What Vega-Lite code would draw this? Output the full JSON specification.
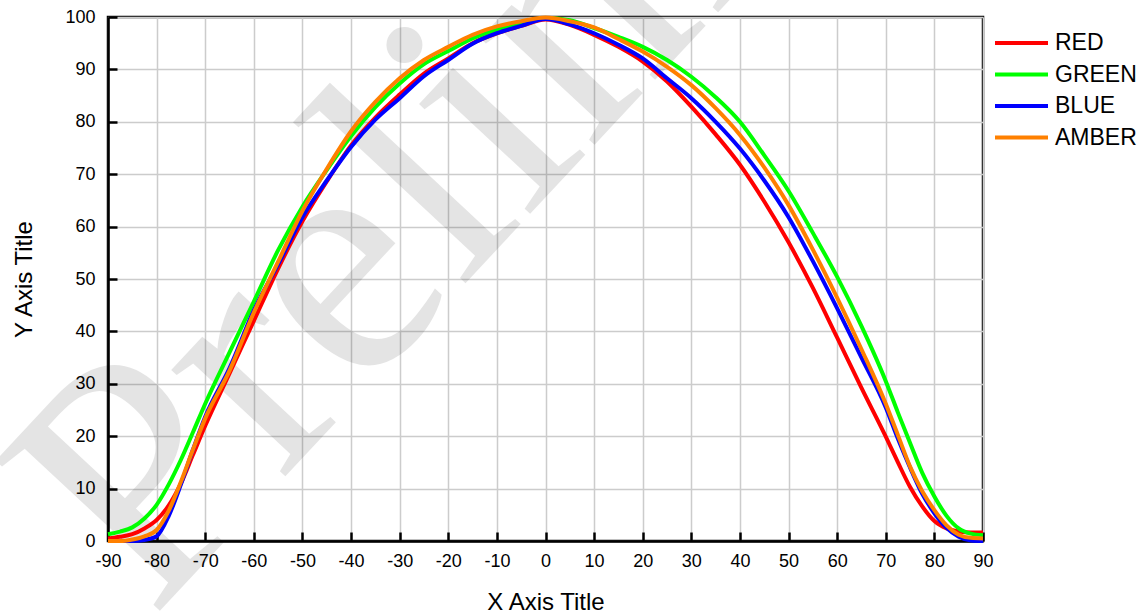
{
  "$schema": "https://vega.github.io/schema/vega-lite/v6.json",
  "autosize": {"type": "none"},
  "padding": {"left": 108, "top": 17, "right": 165, "bottom": 75},
  "width": 875,
  "height": 524,
  "background": "white",
  "config": {
    "view": {"stroke": "black", "strokeWidth": 2.5},
    "font": "Liberation Sans",
    "axis": {
      "grid": true,
      "labelFont": "Liberation Sans",
      "labelFontSize": 18,
      "labelColor": "black",
      "titleFont": "Liberation Sans",
      "titleFontSize": 24,
      "titleFontWeight": "normal",
      "titleColor": "black",
      "tickColor": "black",
      "tickWidth": 2.5,
      "tickSize": -9,
      "domainColor": "black",
      "domainWidth": 2.5,
      "gridColor": "#cccccc",
      "gridWidth": 1.5,
      "labelFlush": false,
      "labelOverlap": false
    }
  },
  "layer": [
    {
      "data": {"values": [{"label": "Preliminary"}]},
      "mark": {"type": "text", "font": "Liberation Serif", "fontSize": 340, "angle": 313, "align": "left", "baseline": "alphabetic", "color": "#000000", "opacity": 0.1, "clip": false},
      "encoding": {
        "x": {"datum": -81, "type": "quantitative"},
        "y": {"datum": -15, "type": "quantitative"},
        "text": {"field": "label"}
      }
    },
    {
      "data": {"values": [
        {"x": -90, "RED": 0.5, "GREEN": 1.3, "BLUE": 0, "AMBER": 0},
        {"x": -87.5, "RED": 0.8, "GREEN": 1.8, "BLUE": 0, "AMBER": 0},
        {"x": -85, "RED": 1.3, "GREEN": 2.6, "BLUE": 0, "AMBER": 0.3},
        {"x": -82.5, "RED": 2.4, "GREEN": 4.3, "BLUE": 0.2, "AMBER": 0.9},
        {"x": -80, "RED": 4.0, "GREEN": 6.9, "BLUE": 0.9, "AMBER": 2.1},
        {"x": -77.5, "RED": 6.8, "GREEN": 10.8, "BLUE": 4.8, "AMBER": 5.8},
        {"x": -75, "RED": 11, "GREEN": 15.5, "BLUE": 10.8, "AMBER": 11.3},
        {"x": -72.5, "RED": 16.5, "GREEN": 20.8, "BLUE": 17.5, "AMBER": 17.5},
        {"x": -70, "RED": 22, "GREEN": 26.2, "BLUE": 23.7, "AMBER": 23.4},
        {"x": -65, "RED": 32, "GREEN": 36, "BLUE": 33, "AMBER": 32.5},
        {"x": -60, "RED": 42, "GREEN": 45.7, "BLUE": 44, "AMBER": 43.6},
        {"x": -55, "RED": 52, "GREEN": 55.5, "BLUE": 52.8, "AMBER": 53.3},
        {"x": -50, "RED": 61, "GREEN": 63.8, "BLUE": 61.8, "AMBER": 63},
        {"x": -45, "RED": 68.6, "GREEN": 70.8, "BLUE": 68.8, "AMBER": 71},
        {"x": -40, "RED": 75.5, "GREEN": 77.3, "BLUE": 75.2, "AMBER": 78.2},
        {"x": -35, "RED": 80.8, "GREEN": 82.8, "BLUE": 80.4, "AMBER": 83.8},
        {"x": -30, "RED": 85.2, "GREEN": 87.3, "BLUE": 84.5, "AMBER": 88.3},
        {"x": -25, "RED": 89.2, "GREEN": 91, "BLUE": 88.7, "AMBER": 91.8},
        {"x": -20, "RED": 92.1, "GREEN": 93.5, "BLUE": 91.8, "AMBER": 94.3},
        {"x": -15, "RED": 95, "GREEN": 95.9, "BLUE": 94.9, "AMBER": 96.6},
        {"x": -10, "RED": 96.9, "GREEN": 97.6, "BLUE": 96.9, "AMBER": 98.2},
        {"x": -5, "RED": 98.3, "GREEN": 98.8, "BLUE": 98.3, "AMBER": 99.2},
        {"x": 0, "RED": 99.5, "GREEN": 99.8, "BLUE": 99.6, "AMBER": 99.9},
        {"x": 5, "RED": 98.5, "GREEN": 99.4, "BLUE": 98.6, "AMBER": 99.2},
        {"x": 10, "RED": 96.6, "GREEN": 97.9, "BLUE": 96.9, "AMBER": 98},
        {"x": 15, "RED": 94.3, "GREEN": 96.2, "BLUE": 94.7, "AMBER": 95.8},
        {"x": 20, "RED": 91.5, "GREEN": 94.3, "BLUE": 92.1, "AMBER": 93.4},
        {"x": 25, "RED": 87.7, "GREEN": 91.8, "BLUE": 88.3, "AMBER": 90.5},
        {"x": 30, "RED": 82.9, "GREEN": 88.6, "BLUE": 84.5, "AMBER": 87},
        {"x": 35, "RED": 77.6, "GREEN": 84.7, "BLUE": 80, "AMBER": 82.6},
        {"x": 40, "RED": 71.8, "GREEN": 80, "BLUE": 74.9, "AMBER": 77.5},
        {"x": 45, "RED": 64.8, "GREEN": 73.6, "BLUE": 68.8, "AMBER": 71.3},
        {"x": 50, "RED": 57, "GREEN": 66.8, "BLUE": 61.8, "AMBER": 64.1},
        {"x": 55, "RED": 48.3, "GREEN": 58.8, "BLUE": 53.4, "AMBER": 55.6},
        {"x": 60, "RED": 38.8, "GREEN": 50.4, "BLUE": 44.4, "AMBER": 46.4},
        {"x": 65, "RED": 29.2, "GREEN": 41, "BLUE": 35, "AMBER": 36.6},
        {"x": 70, "RED": 19.9, "GREEN": 30.5, "BLUE": 25.5, "AMBER": 26.2},
        {"x": 72.5, "RED": 15, "GREEN": 24.5, "BLUE": 19.5, "AMBER": 20.2},
        {"x": 75, "RED": 10.3, "GREEN": 18.7, "BLUE": 14, "AMBER": 14.2},
        {"x": 77.5, "RED": 6.6, "GREEN": 13, "BLUE": 9, "AMBER": 9.5},
        {"x": 80, "RED": 3.8, "GREEN": 8.5, "BLUE": 5.3, "AMBER": 5.9},
        {"x": 82.5, "RED": 2.4, "GREEN": 4.8, "BLUE": 2.5, "AMBER": 3.0},
        {"x": 85, "RED": 1.8, "GREEN": 2.4, "BLUE": 0.8, "AMBER": 1.2},
        {"x": 87.5, "RED": 1.6, "GREEN": 1.4, "BLUE": 0.1, "AMBER": 0.6},
        {"x": 90, "RED": 1.6, "GREEN": 1.1, "BLUE": 0, "AMBER": 0.5}
      ]},
      "transform": [{"fold": ["RED", "GREEN", "BLUE", "AMBER"], "as": ["series", "value"]}],
      "mark": {"type": "line", "interpolate": "monotone", "strokeWidth": 4},
      "encoding": {
        "x": {
          "field": "x", "type": "quantitative",
          "scale": {"domain": [-90, 90], "nice": false, "zero": false},
          "axis": {"title": "X Axis Title", "grid": true, "values": [-90,-80,-70,-60,-50,-40,-30,-20,-10,0,10,20,30,40,50,60,70,80,90], "labelExpr": "'' + datum.value", "labelPadding": 20, "titlePadding": 20}
        },
        "y": {
          "field": "value", "type": "quantitative",
          "scale": {"domain": [0, 100], "nice": false},
          "axis": {"title": "Y Axis Title", "grid": true, "values": [0,10,20,30,40,50,60,70,80,90,100], "labelExpr": "'' + datum.value", "labelPadding": 22, "titlePadding": 28}
        },
        "color": {
          "field": "series", "type": "nominal",
          "scale": {"domain": ["RED", "GREEN", "BLUE", "AMBER"], "range": ["#ff0000", "#00ff00", "#0000ff", "#ff8000"]},
          "legend": {
            "title": null, "orient": "none", "legendX": 885, "legendY": 10.5,
            "symbolType": "stroke", "symbolSize": 2809, "symbolStrokeWidth": 4,
            "clipHeight": 31, "rowPadding": 0.5, "padding": 0,
            "labelFont": "Liberation Sans", "labelFontSize": 23, "labelColor": "black", "labelOffset": 5
          }
        },
        "order": {"field": "series", "sort": "ascending"}
      }
    }
  ]
}
